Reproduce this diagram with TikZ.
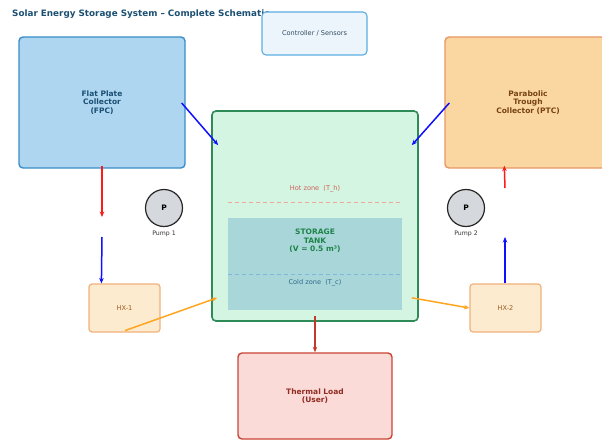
\documentclass[tikz,border=0pt]{standalone}
\usepackage{fontspec}
\setmainfont{DejaVu Sans}
\usetikzlibrary{calc,arrows.meta}
\definecolor{titlec}{HTML}{1B4F72}
\definecolor{fpcfill}{HTML}{AED6F1}
\definecolor{fpcdraw}{HTML}{3A8DC8}
\definecolor{ctrlfill}{HTML}{EBF5FB}
\definecolor{ctrldraw}{HTML}{5DADE2}
\definecolor{ctrltext}{HTML}{34495E}
\definecolor{ptcfill}{HTML}{FAD7A0}
\definecolor{ptcdraw}{HTML}{E59866}
\definecolor{ptctext}{HTML}{784212}
\definecolor{tankfill}{HTML}{D5F5E3}
\definecolor{tankdraw}{HTML}{2E8B57}
\definecolor{tanktext}{HTML}{1E8449}
\definecolor{innerfill}{HTML}{A9D6D8}
\definecolor{hottext}{HTML}{CD6155}
\definecolor{hotline}{HTML}{F1A7A0}
\definecolor{coldtext}{HTML}{2E6A8E}
\definecolor{coldline}{HTML}{7FB8DC}
\definecolor{pumpfill}{HTML}{D5D8DC}
\definecolor{hxfill}{HTML}{FDEBD0}
\definecolor{hxdraw}{HTML}{F0B27A}
\definecolor{hxtext}{HTML}{9C5B1E}
\definecolor{loadfill}{HTML}{FADBD8}
\definecolor{loaddraw}{HTML}{CB4335}
\definecolor{loadtext}{HTML}{922B21}
\definecolor{arrred}{HTML}{FF1A1A}
\definecolor{arrblue}{HTML}{1010FF}
\definecolor{arrorange}{HTML}{FFA520}
\definecolor{arrdark}{HTML}{C0392B}
\tikzset{
  box/.style={rectangle, rounded corners=4pt, line width=1.4pt, inner sep=0pt, align=center},
  bigtxt/.style={font=\bfseries\fontsize{7.5}{8.4}\selectfont},
  smalltxt/.style={font=\fontsize{6.6}{7.5}\selectfont},
  flow/.style={line width=1.5pt, -{Stealth[length=5.5pt,width=4.5pt]}},
  pumpc/.style={circle, fill=pumpfill, draw=black!85, line width=1.2pt, minimum size=37pt, inner sep=0pt, font=\bfseries\fontsize{7.5}{8}\selectfont}
}
\begin{document}
\begin{tikzpicture}[x=1pt,y=-1pt]
\useasboundingbox (0,0) rectangle (602,441);
\clip (0,0) rectangle (602,441);
% title
\node[anchor=west, text=titlec, font=\bfseries\fontsize{8.8}{10}\selectfont, inner sep=0pt] (title) at (12,14) {Solar Energy Storage System – Complete Schematic};
% boxes
\node[box, bigtxt, fill=fpcfill, draw=fpcdraw, text=titlec, minimum width=166pt, minimum height=131pt] (fpc) at (102,102.5) {Flat Plate\\Collector\\(FPC)};
\node[box, smalltxt, fill=ctrlfill, draw=ctrldraw, text=ctrltext, line width=1.1pt, minimum width=105pt, minimum height=43pt] (ctrl) at (314.5,33.5) {Controller / Sensors};
\node[box, bigtxt, fill=ptcfill, draw=ptcdraw, text=ptctext, minimum width=166pt, minimum height=131pt] (ptc) at (528,102.5) {Parabolic\\Trough\\Collector (PTC)};
\node[box, fill=tankfill, draw=tankdraw, minimum width=206pt, minimum height=210pt, line width=1.6pt] (tank) at (315,216) {};
\node[rectangle, fill=innerfill, minimum width=174pt, minimum height=92pt, inner sep=0pt] (inner) at (315,264) {};
\node[smalltxt, text=hottext] (hot) at (315,189) {Hot zone\ \ (T\_h)};
\draw[hotline, line width=0.9pt, dash pattern=on 4pt off 3pt] (inner.west |- 0,202) coordinate (hl) -- (inner.east |- 0,202) coordinate (hr);
\draw[coldline, line width=0.9pt, dash pattern=on 4pt off 3pt] (inner.west |- 0,274) coordinate (cl) -- (inner.east |- 0,274) coordinate (cr);
\node[bigtxt, text=tanktext, align=center] (tanklbl) at (315,241) {STORAGE\\TANK\\(V = 0.5 m³)};
\node[smalltxt, text=coldtext] (cold) at (315,283) {Cold zone\ \ (T\_c)};
% pumps
\node[pumpc] (p1) at (164,208) {P};
\node[font=\fontsize{6.2}{7}\selectfont, text=black!80] (p1l) at (164,233.5) {Pump 1};
\node[pumpc] (p2) at (466,208) {P};
\node[font=\fontsize{6.2}{7}\selectfont, text=black!80] (p2l) at (466,233.5) {Pump 2};
% heat exchangers
\node[box, smalltxt, fill=hxfill, draw=hxdraw, text=hxtext, line width=1.2pt, rounded corners=3pt, minimum width=71pt, minimum height=48pt] (hx1) at (124.5,308) {HX-1};
\node[box, smalltxt, fill=hxfill, draw=hxdraw, text=hxtext, line width=1.2pt, rounded corners=3pt, minimum width=71pt, minimum height=48pt] (hx2) at (505.5,308) {HX-2};
% load
\node[box, bigtxt, fill=loadfill, draw=loaddraw, text=loadtext, minimum width=154pt, minimum height=86pt] (load) at (315,396) {Thermal Load\\(User)};
% free-end coordinates
\coordinate (r1) at (102,217);
\coordinate (b1) at (102,237);
\coordinate (b2) at (505,237);
\coordinate (r2) at (505,188);
% connectors
\draw[flow, arrblue] ($(fpc.east)+(-4,0.5)$) -- ($(tank.north west)+(7,35)$);
\draw[flow, arrblue] ($(ptc.west)+(5,0.5)$) -- ($(tank.north east)+(-7,35)$);
\draw[flow, arrred] ($(fpc.south)+(0,-3)$) -- (r1);
\draw[flow, arrblue] (b1) -- ($(hx1.north west)+(13,0)$);
\draw[flow, arrorange] ($(hx1.south)+(0.5,-2)$) -- ($(tank.south west)+(6,-24)$);
\draw[flow, arrorange] ($(tank.south east)+(-7,-24)$) -- (hx2.west);
\draw[flow, arrblue] ($(hx2.north)+(-0.5,0)$) -- (b2);
\draw[flow, arrred] (r2) -- ($(ptc.south west)+(60,-3)$);
\draw[flow, arrdark] ($(tank.south)+(0,-6)$) -- (load.north);
\end{tikzpicture}
\end{document}
